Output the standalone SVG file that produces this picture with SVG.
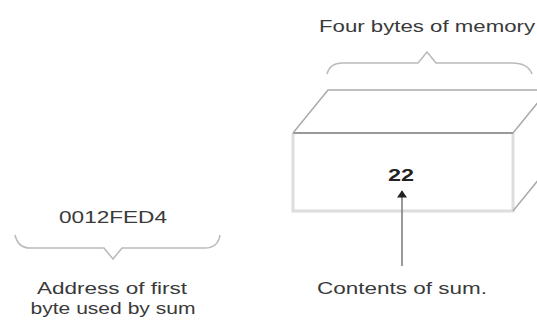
<svg xmlns="http://www.w3.org/2000/svg" width="537" height="320" viewBox="0 0 537 320">
<style>
text{font-family:"Liberation Sans",Arial,sans-serif;fill:#3a3a3a;font-size:16px;text-anchor:middle}
.brace{fill:none;stroke:#bbb;stroke-width:1.6}
.edge{fill:none;stroke:#aaa;stroke-width:1.5}
.light{fill:none;stroke:#ddd;stroke-width:3}
</style>
<defs>
<marker id="ah" viewBox="0 0 10 14" refX="9" refY="7" markerWidth="14" markerHeight="10" orient="auto" markerUnits="userSpaceOnUse">
<path d="M0,0 L10,7 L0,14 Z" fill="#222"/>
</marker>
</defs>
<g id="memory">
<text x="427" y="32" textLength="216" lengthAdjust="spacingAndGlyphs">Four bytes of memory</text>
<path class="brace" d="M327,74 Q330,63 342,63 L418,63 L427,52 L436,63 L512,63 Q528,63 532,74"/>
<path class="light" d="M293,133 L293,211 L513,211 L513,133"/>
<line x1="293" y1="133" x2="513" y2="133" stroke="#999" stroke-width="2"/>
<path class="edge" d="M293,133 L328,90 L548,90 M513,133 L548,90 M513,211 L548,168"/>
<text x="401" y="181" textLength="26" lengthAdjust="spacingAndGlyphs" style="font-weight:bold;fill:#222">22</text>
</g>
<g id="address">
<text x="113" y="223" textLength="108" lengthAdjust="spacingAndGlyphs">0012FED4</text>
<path class="brace" d="M15,235 Q18,248 30,248 L104,248 L113,259 L122,248 L205,248 Q218,248 220,235"/>
<text x="112" y="294" textLength="150" lengthAdjust="spacingAndGlyphs">Address of first</text>
<text x="113" y="314" textLength="165" lengthAdjust="spacingAndGlyphs">byte used by sum</text>
</g>
<g id="contents">
<text x="402" y="294" textLength="170" lengthAdjust="spacingAndGlyphs">Contents of sum.</text>
</g>
<g id="connectors">
<line x1="402" y1="266" x2="402" y2="191" stroke="#777" stroke-width="1.5" marker-end="url(#ah)"/>
</g>
</svg>
